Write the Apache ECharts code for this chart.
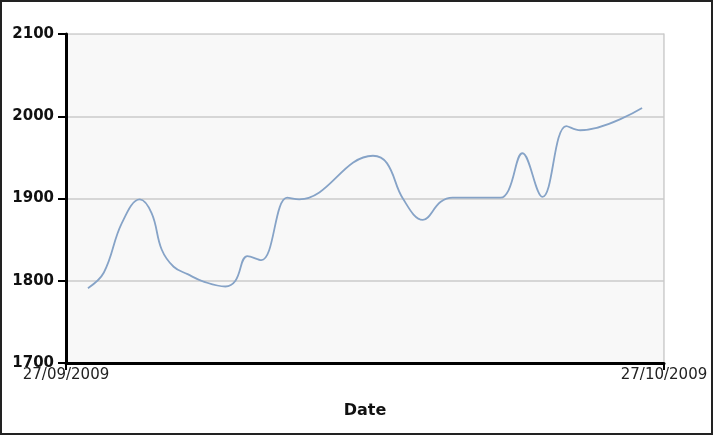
<!DOCTYPE html>
<html>
<head>
<meta charset="utf-8">
<script src="https://cdn.jsdelivr.net/npm/echarts@6/dist/echarts.min.js"></script>
<style>
html,body{margin:0;padding:0;background:#fff;}
#chart{width:713px;height:436px;}
</style>
</head>
<body>
<div id="chart"></div>
<script>
// Days after 27/09/2009
var dayOffsets = [1.1, 1.9, 2.8, 3.7, 4.3, 4.8, 5.4, 6.1, 6.9, 8.0, 8.5, 9.1, 9.8, 11.1, 11.7, 15.4, 16.1, 16.9, 17.9, 18.8, 19.4, 21.8, 22.2, 22.9, 23.9, 25.1, 25.8, 28.9];
var values = [1791, 1810, 1870, 1899, 1882, 1838, 1817, 1808, 1799, 1793, 1800, 1830, 1825, 1901, 1899, 1952, 1943, 1900, 1874, 1896, 1901, 1901, 1910, 1955, 1902, 1988, 1983, 2010];
var xTickLabels = ['27/09/2009', '27/10/2009'];
var xTitle = 'Date';
var xMin = 0, xMax = 30, yMin = 1700, yMax = 2100;

var chart = echarts.init(document.getElementById('chart'));
var data = dayOffsets.map(function (d, i) { return [d, values[i]]; });

chart.setOption({
  animation: false,
  grid: { left: 66, right: 49, top: 34, bottom: 73 },
  xAxis: {
    type: 'value', min: xMin, max: xMax, interval: 30,
    name: xTitle, nameLocation: 'middle', nameGap: 40,
    nameTextStyle: { fontFamily: 'DejaVu Sans', fontWeight: 'bold', fontSize: 16, color: '#111' },
    axisLine: { show: true, onZero: false, lineStyle: { color: '#000', width: 3 } },
    axisTick: { show: true, length: 7, lineStyle: { color: '#000', width: 2 } },
    axisLabel: {
      fontFamily: 'DejaVu Sans', fontSize: 15, color: '#222', margin: 5,
      showMinLabel: true, showMaxLabel: true,
      formatter: function (v) { return v === 0 ? xTickLabels[0] : (v === 30 ? xTickLabels[1] : ''); }
    },
    splitLine: { show: false }
  },
  yAxis: [{
    type: 'value', min: yMin, max: yMax, interval: 100,
    axisLine: { show: true, onZero: false, lineStyle: { color: '#000', width: 3 } },
    axisTick: { show: true, length: 8, lineStyle: { color: '#000', width: 2 } },
    axisLabel: {
      fontFamily: 'DejaVu Sans', fontWeight: 'bold', fontSize: 15, color: '#111', margin: 12,
      formatter: function (v) { return String(v); }
    },
    splitLine: { show: true, lineStyle: { color: '#d0d0d0', width: 1.5 } }
  }, {
    type: 'value', position: 'right', min: yMin, max: yMax, interval: 100,
    axisLine: { show: true, onZero: false, lineStyle: { color: '#cfcfcf', width: 1.5 } },
    axisTick: { show: false }, axisLabel: { show: false }, splitLine: { show: false }
  }],
  series: [{
    type: 'line', data: [], z: -5, silent: true,
    markArea: {
      silent: true,
      itemStyle: { color: 'rgba(0,0,0,0.028)' },
      data: [[{ coord: [xMin, yMin] }, { coord: [xMax, yMax] }]]
    }
  }, {
    type: 'line', data: data, smooth: 0.4, symbol: 'none',
    lineStyle: { color: '#86a3c7', width: 1.8 }
  }],
  graphic: [{
    type: 'rect', silent: true, z: 100,
    shape: { x: 1, y: 1, width: 711, height: 433 },
    style: { fill: null, stroke: '#222', lineWidth: 2 }
  }]
});
</script>
</body>
</html>
